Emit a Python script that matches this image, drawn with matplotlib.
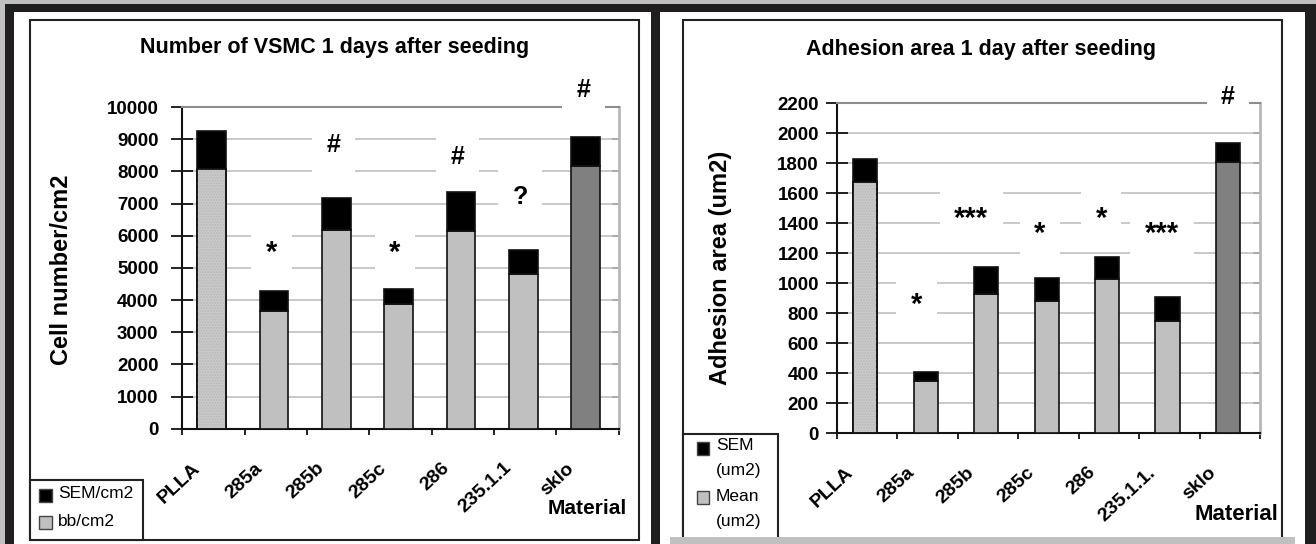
import matplotlib
matplotlib.use("Agg")
import matplotlib.pyplot as plt
from matplotlib.patches import Rectangle
from matplotlib.transforms import Affine2D, ScaledTranslation

# data
materials_a = ["PLLA", "285a", "285b", "285c", "286", "235.1.1", "sklo"]
cells_mean = [8070, 3650, 6180, 3880, 6150, 4820, 8180]
cells_sem = [1190, 620, 1000, 470, 1220, 740, 880]
cells_marks = ["", "*", "#", "*", "#", "?", "#"]
cells_series = ["bb/cm2", "SEM/cm2"]

materials_b = ["PLLA", "285a", "285b", "285c", "286", "235.1.1.", "sklo"]
area_mean = [1675, 350, 925, 878, 1025, 750, 1810]
area_sem = [150, 55, 180, 153, 150, 155, 125]
area_marks = ["", "*", "***", "*", "*", "***", "#"]
area_series = ["Mean\n(um2)", "SEM\n(um2)"]

# where the significance marks sit (value level, x shift)
cells_mark_y = [0, 5657, 8813, 5657, 8455, 7212, 10528]
cells_mark_dx = [0, -0.07, -0.08, -0.09, -0.08, -0.08, -0.06]
area_mark_y = [0, 895, 1469, 1369, 1469, 1369, 2242]
area_mark_dx = [0, -0.18, -0.28, -0.14, -0.13, -0.12, -0.03]

W, H = 1316, 544
GREY = "#c0c0c0"
FONT = "Liberation Sans"

plt.rcParams["font.family"] = [FONT, "DejaVu Sans"]

fig = plt.figure(figsize=(W / 100, H / 100), dpi=100, facecolor=GREY)
# pixel coords, origin top-left
pix = Affine2D().scale(1 / W, -1 / H).translate(0, 1) + fig.transFigure


def rect(x0, y0, x1, y1, z=5, **kw):
    fig.add_artist(Rectangle((x0, y0), x1 - x0, y1 - y0, transform=pix,
                             zorder=z, **kw))


def text(x, y, s, **kw):
    fig.text(x, y, s, transform=pix, zorder=6, **kw)


# page background: black border and two white panels
rect(5, 4, W, H, z=-3, facecolor="#201e1e", edgecolor="none")
rect(14, 12, 651, H, z=-2, facecolor="white", edgecolor="none")
rect(660, 12, 1305, H, z=-2, facecolor="white", edgecolor="none")
# chart frames
rect(29.5, 20, 639, 539.5, z=-1, facecolor="none", edgecolor="#222222",
     linewidth=1.5)
rect(682.5, 20, 1282, 541, z=-1, facecolor="none", edgecolor="#222222",
     linewidth=1.5)


def panel(box, names, mean, sem, marks, mark_y, mark_dx, ymax, ystep,
          width, pad_tick):
    x0, ytop, x1, ybot = box
    ax = fig.add_axes([x0 / W, 1 - ybot / H, (x1 - x0) / W, (ybot - ytop) / H])
    ax.set_facecolor("none")
    xs = [i - 0.03 for i in range(len(names))]
    fills = [GREY] * len(names)
    fills[0] = "#cbcbcb"
    fills[-1] = "#808080"
    ax.bar(xs, mean, width, color=fills, edgecolor="#111111", linewidth=1.2,
           zorder=3)
    # fine dotted fill of the first bar, then its outline again on top
    ax.bar(xs[0], mean[0], width, fill=False, hatch="......",
           edgecolor="#b8b8b8", linewidth=0, zorder=3.1)
    ax.bar(xs[0], mean[0], width, fill=False, edgecolor="#111111",
           linewidth=1.2, zorder=3.2)
    ax.bar(xs, sem, width, bottom=mean, color="black", edgecolor="#111111",
           linewidth=1.2, zorder=3)

    for i, m in enumerate(marks):
        if not m:
            continue
        fs = 18
        tr = ax.transData
        if "*" in m:
            fs = 21
            # asterisks sit high in the line box, pull them down
            tr = tr + ScaledTranslation(0, -0.21 * fs / 72, fig.dpi_scale_trans)
        ax.text(i + mark_dx[i], mark_y[i], m, ha="center", va="center",
                fontsize=fs, fontweight="bold", zorder=4, clip_on=False,
                transform=tr,
                bbox=dict(boxstyle="square,pad=%.2f" % (10.5 / fs),
                          facecolor="white", edgecolor="none"))

    ax.set_xlim(-0.5, len(names) - 0.5)
    ax.set_ylim(0, ymax)
    ax.set_yticks(range(0, ymax + 1, ystep))
    ax.yaxis.grid(True, color=GREY, linewidth=1.2)
    ax.set_axisbelow(True)

    ax.spines["left"].set_color("#111111")
    ax.spines["bottom"].set_color("#111111")
    ax.spines["left"].set_linewidth(1.5)
    ax.spines["bottom"].set_linewidth(1.5)
    ax.spines["top"].set_color("#8c8c8c")
    ax.spines["top"].set_linewidth(1.5)
    ax.spines["right"].set_color("#b8b8b8")
    ax.spines["right"].set_linewidth(2)

    ax.tick_params(axis="y", direction="inout", length=16, width=1.3,
                   color="#111111", pad=pad_tick, labelsize=13.5)
    for lab in ax.get_yticklabels():
        lab.set_fontweight("bold")
    right = ax.secondary_yaxis("right")
    right.set_yticks(range(0, ymax + 1, ystep))
    right.tick_params(direction="in", length=5, width=1.3, color="#333333",
                      labelright=False)
    right.spines["right"].set_visible(False)

    ax.set_xticks([i - 0.5 for i in range(len(names) + 1)], minor=True)
    ax.tick_params(axis="x", which="minor", direction="out", length=4.5,
                   width=1.3, color="#111111")
    ax.set_xticks(range(len(names)), names)
    ax.tick_params(axis="x", which="major", length=0, pad=0)
    shift = ScaledTranslation(-0.16, -0.37, fig.dpi_scale_trans)
    for lab in ax.get_xticklabels():
        lab.set_rotation(43)
        lab.set_rotation_mode("anchor")
        lab.set_ha("right")
        lab.set_va("center")
        lab.set_fontsize(14)
        lab.set_fontweight("bold")
        lab.set_transform(lab.get_transform() + shift)
    return ax


panel((182.2, 107, 618.7, 428.7), materials_a, cells_mean, cells_sem,
      cells_marks, cells_mark_y, cells_mark_dx, 10000, 1000, 0.46, 9)
panel((837, 103.3, 1260, 433), materials_b, area_mean, area_sem,
      area_marks, area_mark_y, area_mark_dx, 2200, 200, 0.40, 5)

# titles and axis names
text(335, 47, "Number of VSMC 1 days after seeding", ha="center", va="center",
     fontsize=15.5, fontweight="bold")
text(981, 50, "Adhesion area 1 day after seeding", ha="center", va="center",
     fontsize=15.5, fontweight="bold")
text(61, 270, "Cell number/cm2", ha="center", va="center", rotation=90,
     fontsize=17, fontweight="bold")
text(721, 268, "Adhesion area (um2)", ha="center", va="center", rotation=90,
     fontsize=17, fontweight="bold")
text(627, 509, "Material", ha="right", va="center", fontsize=15,
     fontweight="bold")
text(1278, 515, "Material", ha="right", va="center", fontsize=16,
     fontweight="bold")

# legends
rect(29.5, 480, 143, 539.5, facecolor="white", edgecolor="#222222",
     linewidth=1.5)
rect(39, 489, 52, 502, facecolor="black", edgecolor="#444444", linewidth=1)
text(58, 493, cells_series[1], ha="left", va="center", fontsize=12.5)
rect(39, 516, 52, 529, facecolor=GREY, edgecolor="#444444", linewidth=1)
text(58, 521, cells_series[0], ha="left", va="center", fontsize=12.5)

rect(683, 434, 778, 541, facecolor="white", edgecolor="#222222", linewidth=1.5)
rect(697, 442, 709, 455, facecolor="black", edgecolor="#444444", linewidth=1)
text(716, 438, area_series[1], ha="left", va="top", fontsize=12.5,
     linespacing=1.85)
rect(697, 491, 709, 504, facecolor=GREY, edgecolor="#444444", linewidth=1)
text(716, 489, area_series[0], ha="left", va="top", fontsize=12.5,
     linespacing=1.85)

# grey strip along the bottom of the right panel
rect(670, 537, 1295, H, facecolor=GREY, edgecolor="none")

fig.savefig("out.png", dpi=100, facecolor=fig.get_facecolor())
